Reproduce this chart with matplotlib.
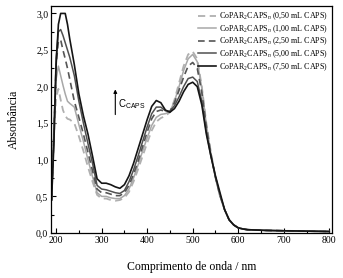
import matplotlib
matplotlib.use("Agg")
import matplotlib.pyplot as plt
from matplotlib.ticker import MultipleLocator, FuncFormatter

plt.rcParams['font.family'] = ['Liberation Serif', 'DejaVu Serif']
plt.rcParams['mathtext.fontset'] = 'custom'
plt.rcParams['mathtext.rm'] = 'Liberation Serif'
plt.rcParams['mathtext.it'] = 'Liberation Serif:italic'
plt.rcParams['mathtext.sf'] = 'Liberation Sans'

# comprimento de onda (nm)
wl = [190, 195, 200, 205, 210, 215, 220, 225, 230, 240, 250, 260, 270, 280, 290,
      300, 310, 320, 330, 340, 350, 360, 370, 380, 390, 400, 410, 420, 430, 440,
      450, 460, 470, 480, 490, 500, 510, 520, 530, 540, 550, 560, 570, 580, 590,
      600, 610, 620, 640, 660, 700, 750, 800]

tail = [0.32, 0.18, 0.11, 0.07, 0.055, 0.045, 0.04, 0.035, 0.03, 0.025, 0.02]

abs_050 = [0.45, 1.30, 1.85, 1.97, 1.82, 1.68, 1.60, 1.56, 1.55, 1.50, 1.32, 1.12, 0.90, 0.70, 0.52,
           0.47, 0.47, 0.45, 0.44, 0.45, 0.48, 0.56, 0.70, 0.87, 1.05, 1.23, 1.40, 1.52, 1.57, 1.60,
           1.65, 1.82, 2.05, 2.28, 2.44, 2.48, 2.38, 2.00, 1.50, 1.10, 0.76, 0.50] + tail
abs_100 = [0.45, 1.45, 2.10, 2.28, 2.15, 2.02, 1.90, 1.80, 1.77, 1.72, 1.48, 1.25, 1.00, 0.77, 0.55,
           0.50, 0.50, 0.48, 0.47, 0.47, 0.51, 0.60, 0.75, 0.93, 1.12, 1.30, 1.47, 1.58, 1.62, 1.63,
           1.66, 1.80, 2.00, 2.22, 2.38, 2.44, 2.34, 1.98, 1.48, 1.09, 0.76, 0.50] + tail
abs_250 = [0.45, 1.35, 2.30, 2.62, 2.64, 2.50, 2.38, 2.25, 2.10, 1.80, 1.58, 1.35, 1.10, 0.85, 0.60,
           0.55, 0.55, 0.53, 0.51, 0.51, 0.55, 0.65, 0.80, 0.98, 1.18, 1.38, 1.56, 1.66, 1.68, 1.66,
           1.66, 1.78, 1.95, 2.13, 2.28, 2.33, 2.25, 1.92, 1.45, 1.07, 0.76, 0.51] + tail
abs_500 = [0.45, 1.30, 2.40, 2.75, 2.78, 2.70, 2.60, 2.50, 2.40, 2.15, 1.80, 1.50, 1.22, 0.95, 0.65,
           0.60, 0.59, 0.57, 0.55, 0.54, 0.58, 0.70, 0.86, 1.05, 1.25, 1.45, 1.63, 1.72, 1.72, 1.67,
           1.66, 1.74, 1.86, 2.00, 2.11, 2.13, 2.07, 1.80, 1.38, 1.05, 0.76, 0.52] + tail
abs_750 = [0.45, 1.20, 2.30, 2.85, 3.00, 3.00, 3.00, 2.85, 2.65, 2.30, 1.90, 1.60, 1.35, 1.05, 0.74,
           0.68, 0.68, 0.66, 0.63, 0.61, 0.66, 0.78, 0.95, 1.15, 1.35, 1.55, 1.73, 1.81, 1.78, 1.68,
           1.65, 1.70, 1.80, 1.93, 2.03, 2.06, 2.00, 1.75, 1.35, 1.05, 0.78, 0.55] + tail

labels = ['CoPAR$_2$CAPS$_n$ (0,50 mL CAPS)',
          'CoPAR$_2$CAPS$_n$ (1,00 mL CAPS)',
          'CoPAR$_2$CAPS$_n$ (2,50 mL CAPS)',
          'CoPAR$_2$CAPS$_n$ (5,00 mL CAPS)',
          'CoPAR$_2$CAPS$_n$ (7,50 mL CAPS)']

fig = plt.figure(figsize=(3.43, 2.78), dpi=100)
ax = fig.add_axes([0.149, 0.162, 0.819, 0.816])

ax.plot(wl, abs_050, color='#b0b0b0', lw=1.3, ls=(0, (4, 2.5)), label=labels[0])
ax.plot(wl, abs_100, color='#a8a8a8', lw=1.1, label=labels[1])
ax.plot(wl, abs_250, color='#555555', lw=1.2, ls=(0, (4, 2.5)), label=labels[2])
ax.plot(wl, abs_500, color='#505050', lw=1.1, label=labels[3])
ax.plot(wl, abs_750, color='#151515', lw=1.2, label=labels[4])

ax.set_xlim(189, 806)
ax.set_ylim(0, 3.1)
ax.xaxis.set_major_locator(MultipleLocator(100))
ax.xaxis.set_minor_locator(MultipleLocator(50))
ax.yaxis.set_major_locator(MultipleLocator(0.5))
ax.yaxis.set_minor_locator(MultipleLocator(0.25))
ax.yaxis.set_major_formatter(FuncFormatter(lambda v, p: ('%.1f' % v).replace('.', ',')))
ax.tick_params(which='both', direction='in', top=False, right=False, labelsize=7, pad=2)
ax.tick_params(which='major', length=3.5, width=0.8)
ax.tick_params(which='minor', length=2, width=0.8)
for s in ax.spines.values():
    s.set_linewidth(0.9)

ax.set_xlabel('Comprimento de onda / nm', fontsize=8.5, labelpad=12)
ax.set_ylabel('Absorbância', fontsize=8.5, labelpad=12)

ax.annotate('', xy=(330, 2.0), xytext=(330, 1.58),
            arrowprops=dict(arrowstyle='-|>', color='k', lw=0.8, mutation_scale=5))
ax.text(337, 1.72, r'C$_\mathsf{CAPS}$', fontsize=7, family='Liberation Sans')

ax.legend(loc='upper right', frameon=False, fontsize=5.8, handlelength=2.2,
          handletextpad=0.3, labelspacing=0.12, borderaxespad=0.15,
          bbox_to_anchor=(1.0, 1.0))

fig.savefig('out.png', dpi=100)
